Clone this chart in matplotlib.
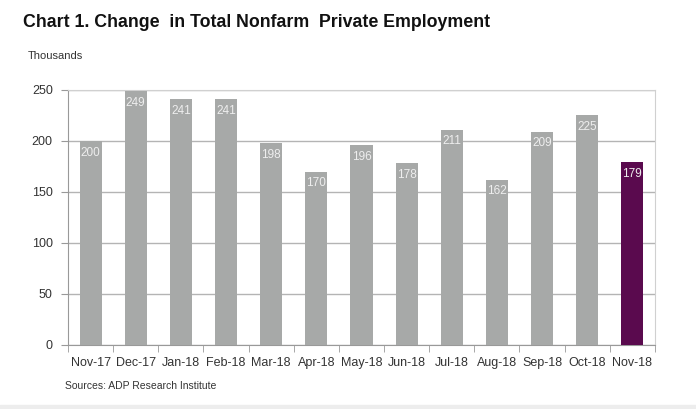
import matplotlib
matplotlib.use("Agg")
import matplotlib.pyplot as plt
from matplotlib.patches import Rectangle
import numpy as np

plt.rcParams['font.family'] = ['Liberation Sans', 'DejaVu Sans']

months = ["Nov-17", "Dec-17", "Jan-18", "Feb-18", "Mar-18", "Apr-18", "May-18",
          "Jun-18", "Jul-18", "Aug-18", "Sep-18", "Oct-18", "Nov-18"]
jobs = [200, 249, 241, 241, 198, 170, 196, 178, 211, 162, 209, 225, 179]

grey = "#a7a9a8"
purple = "#5a0a4e"
colors = [grey] * (len(jobs) - 1) + [purple]

fig = plt.figure(figsize=(6.96, 4.09), dpi=100)
ax = fig.add_axes([0.0977, 0.1565, 0.8433, 0.6235])

x = np.arange(len(months))
bars = ax.bar(x, jobs, width=0.49, color=colors, zorder=3)

for b, v in zip(bars, jobs):
    ax.annotate(str(v), (b.get_x() + b.get_width() / 2, v), xytext=(0, -4),
                textcoords="offset points", ha="center", va="top",
                color="#eeeeee", fontsize=8.5, zorder=4)

ax.set_xlim(-0.5, len(months) - 0.5)
ax.set_ylim(0, 250)
ax.set_yticks([0, 50, 100, 150, 200, 250])
ax.yaxis.grid(True, color="#b4b4b4", linewidth=1, zorder=0)
ax.set_xticks(x)
ax.set_xticklabels(months)
ax.set_xticks(np.arange(len(months) + 1) - 0.5, minor=True)
ax.tick_params(axis="x", which="major", length=0, pad=9, labelsize=9, labelcolor="#333333")
ax.tick_params(axis="x", which="minor", length=5, direction="out", color="#999999")
ax.tick_params(axis="y", length=5, direction="out", color="#999999", labelsize=9,
               labelcolor="#333333", pad=6)

for side in ["left", "bottom"]:
    ax.spines[side].set_color("#999999")
for side in ["top", "right"]:
    ax.spines[side].set_color("#d0d0d0")

fig.text(0.033, 0.946, "Chart 1. Change  in Total Nonfarm  Private Employment",
         fontsize=12.8, fontweight="bold", color="#111111", va="center")
fig.text(0.040, 0.862, "Thousands", fontsize=8, color="#333333", va="center")
fig.text(0.094, 0.057, "Sources: ADP Research Institute", fontsize=7.5,
         color="#333333", va="center")

fig.patches.append(Rectangle((0, 0), 1, 0.011, transform=fig.transFigure,
                             color="#ededed", zorder=0))

fig.savefig("out.png", dpi=100)
